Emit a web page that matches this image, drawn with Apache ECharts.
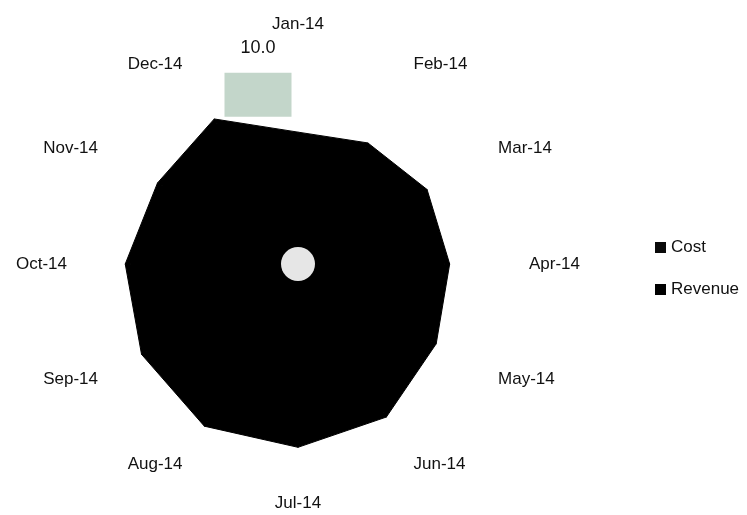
<!DOCTYPE html>
<html>
<head>
<meta charset="utf-8">
<script src="https://cdn.jsdelivr.net/npm/echarts@6/dist/echarts.min.js"></script>
<style>html,body{margin:0;padding:0;background:#fff;}#c{width:747px;height:515px;}</style>
</head>
<body>
<div id="c"></div>
<script>
var categories = ['Jan-14','Feb-14','Mar-14','Apr-14','May-14','Jun-14','Jul-14','Aug-14','Sep-14','Oct-14','Nov-14','Dec-14'];
var revenue = [10.0, 10.6, 11.3, 11.5, 12.1, 13.4, 13.9, 14.2, 13.7, 13.1, 12.3, 12.7];
var cost = [9.6, 10.2, 10.9, 11.1, 11.7, 13.0, 13.5, 13.8, 13.3, 12.7, 11.9, 12.3];
var seriesNames = ['Cost', 'Revenue'];
var axisMax = 16;

// ECharts radar runs counter-clockwise; reorder so months run clockwise from the top.
function cw(arr) { return [arr[0]].concat(arr.slice(1).reverse()); }

var FONT = 'Liberation Sans';
var chart = echarts.init(document.getElementById('c'));
var cx = 298, cy = 264;
chart.setOption({
  animation: false,
  backgroundColor: '#ffffff',
  textStyle: { fontFamily: FONT },
  legend: {
    orient: 'vertical',
    left: 650,
    top: 234,
    itemWidth: 11,
    itemHeight: 11,
    itemGap: 25,
    icon: 'rect',
    data: seriesNames,
    textStyle: { fontFamily: FONT, fontSize: 17, color: '#111' }
  },
  radar: {
    center: [cx, cy],
    radius: 211,
    startAngle: 90,
    shape: 'polygon',
    splitNumber: 4,
    nameGap: 20,
    indicator: cw(categories).map(function (c) { return { name: c, max: axisMax, min: 0 }; }),
    axisName: { color: '#111', fontFamily: FONT, fontSize: 17 },
    axisLine: { show: false },
    splitLine: { show: false },
    splitArea: { show: false },
    axisTick: { show: false },
    axisLabel: { show: false }
  },
  series: [{
    type: 'radar',
    symbol: 'circle',
    symbolSize: 1,
    data: [
      { name: seriesNames[0], value: cw(cost),
        itemStyle: { color: '#0a0a0a' },
        lineStyle: { color: '#0a0a0a', width: 1 },
        areaStyle: { color: '#0a0a0a', opacity: 1 } },
      { name: seriesNames[1], value: cw(revenue),
        itemStyle: { color: '#000' },
        lineStyle: { color: '#000', width: 1 },
        areaStyle: { color: '#000', opacity: 1 },
        label: {
          show: true,
          position: 'top',
          distance: 15,
          offset: [-40, 0],
          formatter: function (p) {
            return p.value === revenue[0] ? '{t|' + revenue[0].toFixed(1) + '}\n{b|}' : '';
          },
          rich: {
            t: { fontFamily: FONT, fontSize: 18, color: '#111', lineHeight: 50, align: 'center' },
            b: { width: 67, height: 44, backgroundColor: '#c3d6ca', align: 'center' }
          }
        } }
    ]
  }],
  graphic: [{
    type: 'circle',
    shape: { cx: cx, cy: cy, r: 17 },
    style: { fill: '#e6e6e6' },
    z: 100
  }]
});
</script>
</body>
</html>
